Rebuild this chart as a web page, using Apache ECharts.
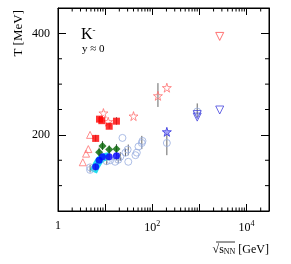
<!DOCTYPE html>
<html><head><meta charset="utf-8">
<script src="https://cdn.jsdelivr.net/npm/echarts@6/dist/echarts.min.js"></script>
<style>html,body{margin:0;padding:0;background:#fff}#c{width:291px;height:264px}</style>
</head><body><div id="c"></div>
<script>
// ---- data (sqrt(sNN) [GeV], T [MeV]) ----
const redOpenTri   = [[3.36,146],[3.94,163],[4.4,172],[4.79,200]];
const redSquares   = [[6.3,193],[7.6,231],[8.5,228],[12.2,217],[17.4,227]];
const redStars     = [[9.2,243],[11.6,226],[40,237],[132,277],[204,293]];
const redInvTri    = [[2700,394]];
const blueInvTri   = [[900,240],[900,235],[2700,249]];
const blueStar     = [[204,206]];
const greenDiam    = [[7.45,166],[8.8,178],[12.2,171],[17.4,172]];
const blueFilled   = [[6.3,137],[7.45,150],[8.8,157],[12.2,157],[17.4,159]];
const openCircles  = [[4.8,136],[4.8,131],[10.8,148],[12.8,150],[16.3,147],[17.6,157],[19,151],[21,157],[23.3,194],[27,165],[30,171],[31,147],[44,160],[47,165],[51,177],[60,184],[62,188],[204,184],[900,246]];
const cyanBand     = [[5.6,127],[6.2,136],[7,145],[8,152],[9.5,156],[12,158]];
// error bars: [x, low, high]
const errBars = [[4.8,126,141],[6.3,187,200],[6.3,130,143],[7.6,225,237],[7.45,158,175],[8.8,170,188],[12.2,212,224],[12.2,163,179],[12.2,150,165],[17.4,220,235],[17.4,163,182],[17.4,150,167],[10.8,141,155],[19,144,160],[21,149,166],[31,160,181],[27,158,173],[60,172,198],[132,255,302],[204,160,206],[900,235,262]];
const yTickLabels = [200,400];
const xMin = 1, xMax = 30000, yMin = 50, yMax = 450;

const starPath = 'path://M50,0 L61,35 L98,35 L68,57 L79,91 L50,70 L21,91 L32,57 L2,35 L39,35 Z';
// minor tick positions (axis decoration)
const xMinor = [];
for (let e = 0; e <= 4; e++) for (let k = 2; k <= 9; k++) { const v = k*Math.pow(10,e); if (v < xMax) xMinor.push(v); }
const yMinor = [100,150,250,300,350];

function open(color, size, symbol, data, rotate){
  return {type:'scatter', data, symbol, symbolSize:size, symbolRotate:rotate||0,
    itemStyle:{color:'rgba(255,255,255,0)', borderColor:color, borderWidth:1}, z:5, silent:true};
}
function filled(color, size, symbol, data){
  return {type:'scatter', data, symbol, symbolSize:size, itemStyle:{color}, z:6, silent:true};
}

const chart = echarts.init(document.getElementById('c'), null, {renderer:'canvas'});
const font = 'Liberation Serif';
chart.setOption({
  animation:false,
  grid:{left:58, right:22, top:8, bottom:53, show:true, borderColor:'#000', borderWidth:1},
  xAxis:[
    {type:'log', logBase:10, min:xMin, max:xMax, position:'bottom',
     axisLine:{show:true, lineStyle:{color:'#000'}},
     axisTick:{show:true, inside:true, length:7, lineStyle:{color:'#000'}},
     splitLine:{show:false},
     axisLabel:{margin:9, fontFamily:font, fontSize:12, color:'#000',
       formatter:function(v){ const e=Math.round(Math.log10(v)); if(Math.abs(v-Math.pow(10,e))>1e-6*v) return ''; if(e===0) return '1'; if(e%2) return ''; return '10{s|'+e+'}'; },
       rich:{s:{fontSize:8, fontFamily:font, verticalAlign:'top', padding:[0,0,7,0], color:'#000'}}}},
    {type:'log', logBase:10, min:xMin, max:xMax, position:'top',
     axisLine:{show:true, lineStyle:{color:'#000'}},
     axisTick:{show:true, inside:true, length:7, lineStyle:{color:'#000'}},
     axisLabel:{show:false}, splitLine:{show:false}}
  ],
  yAxis:[
    {type:'value', min:yMin, max:yMax, position:'left',
     axisLine:{show:true, lineStyle:{color:'#000'}},
     axisTick:{show:true, inside:true, length:8, customValues:yTickLabels, lineStyle:{color:'#000'}},
     axisLabel:{customValues:yTickLabels, margin:8, fontFamily:font, fontSize:12, color:'#000'},
     splitLine:{show:false}},
    {type:'value', min:yMin, max:yMax, position:'right',
     axisLine:{show:true, lineStyle:{color:'#000'}},
     axisTick:{show:true, inside:true, length:8, customValues:yTickLabels, lineStyle:{color:'#000'}},
     axisLabel:{show:false}, splitLine:{show:false}}
  ],
  graphic:[
    {type:'text', left:12, top:10, rotation:Math.PI/2, style:{text:'T [MeV]', font:'13px "Liberation Serif"', fill:'#000'}},
    {type:'text', x:81, y:26, style:{text:'K{s|-}', font:'16px "Liberation Serif"', fill:'#000', rich:{s:{fontSize:9, verticalAlign:'top', padding:[0,0,8,0], fontFamily:font}}}},
    {type:'text', x:82, y:44, style:{text:'y ≈ 0', font:'11px "Liberation Serif"', fill:'#000'}},
    {type:'text', x:269, y:243, style:{text:'√{o|s}{sub|NN} [GeV]', align:'right', font:'12px "Liberation Serif"', fill:'#000', rich:{o:{fontSize:12, fontFamily:font}, sub:{fontSize:8, fontFamily:font, verticalAlign:'bottom', padding:[5,0,0,0]}}}},
    {type:'line', shape:{x1:216, y1:242, x2:235, y2:242}, style:{stroke:'#000', lineWidth:0.8}}
  ],
  series:[
    {type:'line', data:cyanBand, smooth:true, symbol:'none', lineStyle:{color:'#22ddee', width:8}, z:2, silent:true},
    {type:'custom', data:errBars, z:3, silent:true,
     renderItem:function(params, api){
       const p1 = api.coord([api.value(0), api.value(1)]);
       const p2 = api.coord([api.value(0), api.value(2)]);
       return {type:'line', shape:{x1:p1[0], y1:p1[1], x2:p2[0], y2:p2[1]}, style:{stroke:'#666', lineWidth:1}};
     }},
    {type:'custom', data:xMinor.map(v=>[v,yMin]), z:3, silent:true, clip:false,
     renderItem:function(params, api){
       const p = api.coord([api.value(0), yMin]);
       const cs = params.coordSys;
       return {type:'group', children:[
         {type:'line', shape:{x1:p[0], y1:cs.y+cs.height, x2:p[0], y2:cs.y+cs.height-3.5}, style:{stroke:'#000', lineWidth:1}},
         {type:'line', shape:{x1:p[0], y1:cs.y, x2:p[0], y2:cs.y+3.5}, style:{stroke:'#000', lineWidth:1}}
       ]};
     }},
    {type:'custom', data:yMinor.map(v=>[xMin,v]), z:3, silent:true, clip:false,
     renderItem:function(params, api){
       const p = api.coord([xMin, api.value(1)]);
       const cs = params.coordSys;
       return {type:'group', children:[
         {type:'line', shape:{x1:cs.x, y1:p[1], x2:cs.x+4, y2:p[1]}, style:{stroke:'#000', lineWidth:1}},
         {type:'line', shape:{x1:cs.x+cs.width, y1:p[1], x2:cs.x+cs.width-4, y2:p[1]}, style:{stroke:'#000', lineWidth:1}}
       ]};
     }},
    open('#99aee0', 7, 'circle', openCircles),
    open('#ff7070', 7, 'triangle', redOpenTri),
    open('#ff7070', 9, starPath, redStars),
    open('#ff5050', 8, 'triangle', redInvTri, 180),
    open('#4444dd', 8, 'triangle', blueInvTri, 180),
    {type:'scatter', data:blueStar, symbol:starPath, symbolSize:9, itemStyle:{color:'#9999ff', borderColor:'#3333dd', borderWidth:1}, z:6, silent:true},
    filled('#ff0000', 7, 'rect', redSquares),
    filled('#006400', 8, 'diamond', greenDiam),
    filled('#0000ff', 7, 'circle', blueFilled)
  ]
});
</script></body></html>
